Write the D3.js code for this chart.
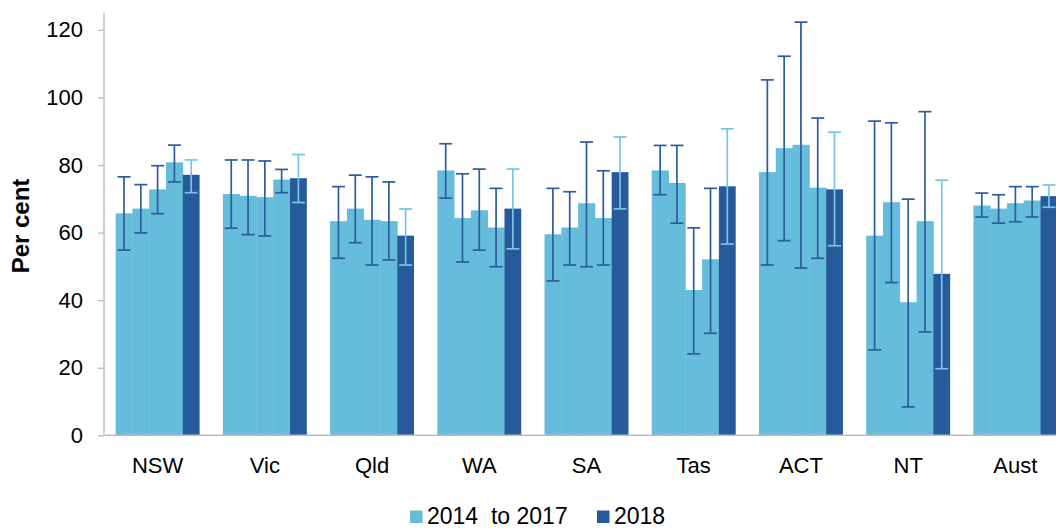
<!DOCTYPE html>
<html>
<head>
<meta charset="utf-8">
<script src="https://cdn.jsdelivr.net/npm/d3@7"></script>
<style>
  html, body { margin: 0; padding: 0; background: #fff; }
  svg { display: block; font-family: "Liberation Sans", Arial, sans-serif; }
</style>
</head>
<body>
<div id="chart"></div>
<script>
// categorías y series
const states = ["NSW", "Vic", "Qld", "WA", "SA", "Tas", "ACT", "NT", "Aust"];
const periods = ["2014", "2015", "2016", "2017", "2018"];

// valor de cada barra, por estado (4 años 2014-2017 + 2018)
const values = [
  [65.7, 67.1, 72.8, 80.8, 77.1],
  [71.4, 70.9, 70.5, 75.7, 76.1],
  [63.4, 67.1, 63.8, 63.4, 59.1],
  [78.4, 64.3, 66.6, 61.5, 67.1],
  [59.5, 61.5, 68.7, 64.3, 77.9],
  [78.4, 74.7, 43.0, 52.1, 73.7],
  [77.9, 85.0, 86.0, 73.3, 72.8],
  [59.1, 69.0, 39.4, 63.4, 47.8],
  [68.0, 67.1, 68.7, 69.5, 70.8]
];
// límites superior / inferior del intervalo de confianza
const upper = [
  [76.5, 74.2, 79.8, 85.9, 81.5],
  [81.5, 81.5, 81.2, 78.7, 83.1],
  [73.6, 77.0, 76.5, 75.0, 67.0],
  [86.3, 77.4, 78.8, 73.1, 78.8],
  [73.1, 72.1, 86.8, 78.3, 88.3],
  [85.8, 85.8, 61.4, 73.1, 90.7],
  [105.2, 112.2, 122.3, 93.9, 89.7],
  [93.0, 92.5, 69.9, 95.8, 75.5],
  [71.7, 71.2, 73.6, 73.6, 74.1]
];
const lower = [
  [54.8, 59.9, 65.6, 75.0, 71.8],
  [61.3, 59.4, 59.0, 71.8, 68.9],
  [52.4, 57.0, 50.4, 51.9, 50.4],
  [70.2, 51.3, 54.8, 49.9, 55.2],
  [45.7, 50.4, 49.9, 50.4, 67.0],
  [71.2, 62.8, 24.1, 30.2, 56.6],
  [50.4, 57.6, 49.5, 52.4, 56.1],
  [25.3, 45.2, 8.4, 30.6, 19.7],
  [64.6, 62.8, 63.2, 64.6, 67.5]
];
const yTicks = [0, 20, 40, 60, 80, 100, 120];
const legendLabels = ["2014  to 2017", "2018"];

const W = 1056, H = 528;
const LIGHT = "#66bcdb", DARK = "#265a9a";
const ERR_ON_LIGHT = "#2c5d9c", ERR_ON_DARK = "#74c6e4";

const svg = d3.select("#chart").append("svg")
  .attr("width", W).attr("height", H);

const x0 = d3.scaleBand().domain(states).range([104, 1069])
  .paddingInner(0.217).paddingOuter(0.1085);
const x1 = d3.scaleBand().domain(periods).range([0, x0.bandwidth()]);
const y = d3.scaleLinear().domain([0, 125]).range([435.3, 13]);

// eje Y
const yAxis = svg.append("g").attr("transform", "translate(104,0)")
  .call(d3.axisLeft(y).tickValues(yTicks).tickSize(6).tickPadding(15));
yAxis.select(".domain").attr("stroke", "#bdbdbd").attr("stroke-width", 1.3)
  .attr("d", `M0,${y(125)}V${y(0)}`);
yAxis.selectAll(".tick line").attr("stroke", "#bdbdbd").attr("stroke-width", 1.3);
yAxis.selectAll(".tick text").attr("font-size", 22).attr("fill", "#000")
  .attr("font-family", "Liberation Sans, Arial, sans-serif");

svg.append("text")
  .attr("transform", "translate(29,226) rotate(-90)")
  .attr("text-anchor", "middle")
  .attr("font-size", 24).attr("font-weight", "bold")
  .text("Per cent");

// barras (se solapan 0.4px para que no queden rendijas)
const rows = states.map((s, i) => ({ s, i }));
const groups = svg.append("g").selectAll("g").data(rows).join("g")
  .attr("transform", d => `translate(${x0(d.s)},0)`);

groups.selectAll("rect")
  .data(d => periods.map((p, k) => ({ p, k, v: values[d.i][k] })))
  .join("rect")
  .attr("x", d => x1(d.p))
  .attr("width", d => x1.bandwidth() + (d.k < 4 ? 0.4 : 0))
  .attr("y", d => y(d.v))
  .attr("height", d => y(0) - y(d.v))
  .attr("fill", d => d.k === 4 ? DARK : LIGHT);

// barras de error
const capW = 6.5;
groups.selectAll("g.err")
  .data(d => periods.map((p, k) => ({ p, k, hi: upper[d.i][k], lo: lower[d.i][k] })))
  .join("g").attr("class", "err")
  .attr("stroke", d => d.k === 4 ? ERR_ON_DARK : ERR_ON_LIGHT)
  .attr("stroke-width", 1.7)
  .each(function (d) {
    const g = d3.select(this);
    const cx = x1(d.p) + x1.bandwidth() / 2;
    g.append("line").attr("x1", cx).attr("x2", cx).attr("y1", y(d.hi)).attr("y2", y(d.lo));
    g.append("line").attr("x1", cx - capW).attr("x2", cx + capW).attr("y1", y(d.hi)).attr("y2", y(d.hi));
    g.append("line").attr("x1", cx - capW).attr("x2", cx + capW).attr("y1", y(d.lo)).attr("y2", y(d.lo));
  });

// eje X
const xAxis = svg.append("g").attr("transform", `translate(0,${y(0)})`)
  .call(d3.axisBottom(x0).tickSize(0).tickPadding(22));
xAxis.select(".domain").attr("stroke", "#bdbdbd").attr("stroke-width", 1.5)
  .attr("d", `M104,0H${W}`);
xAxis.selectAll(".tick text").attr("font-size", 22).attr("fill", "#000")
  .attr("font-family", "Liberation Sans, Arial, sans-serif");

// leyenda
const legend = svg.append("g");
const legX = [410, 597];
legendLabels.forEach((lab, i) => {
  legend.append("rect").attr("x", legX[i]).attr("y", 510.5)
    .attr("width", 12.5).attr("height", 12.5)
    .attr("fill", i === 0 ? LIGHT : DARK);
  legend.append("text").attr("x", legX[i] + 17).attr("y", 524)
    .attr("font-size", 23).attr("xml:space", "preserve")
    .style("white-space", "pre")
    .text(lab);
});
</script>
</body>
</html>
